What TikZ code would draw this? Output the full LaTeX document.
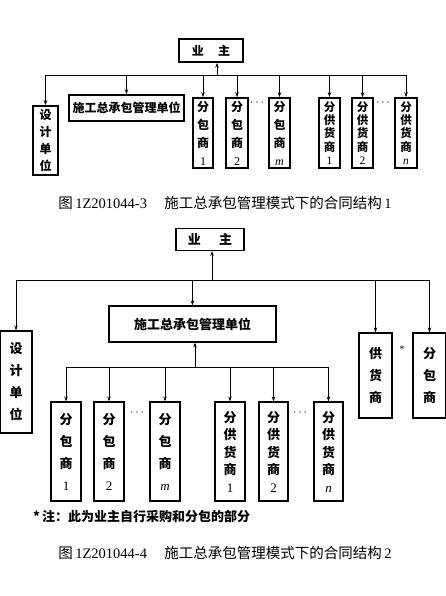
\documentclass[tikz,border=0pt]{standalone}
\usepackage{fontspec}
\setmainfont{Liberation Serif}
\newfontfamily\cjk{Noto Sans CJK SC}
\newcommand{\lat}[1]{{\rmfamily\mdseries #1}}
\newcommand{\lit}[1]{{\rmfamily\mdseries\itshape #1}}
\usetikzlibrary{arrows.meta}
\begin{document}
\begin{tikzpicture}[x=1pt,y=-1pt,
  boxa/.style={draw,line width=1.6pt,inner sep=0pt,align=center,font=\cjk\bfseries\fontsize{12}{18}\selectfont},
  boxa5/.style={boxa,font=\cjk\bfseries\fontsize{11.5}{13.2}\selectfont},
  boxb/.style={draw,line width=1.1pt,inner sep=0pt,align=center,font=\cjk\bfseries\fontsize{13}{22}\selectfont},
  boxb5/.style={boxb,font=\cjk\bfseries\fontsize{13}{17.5}\selectfont},
  wire/.style={line width=0.8pt},
  arr/.style={wire,-{Stealth[length=5pt,width=3.5pt]}},
  dotnode/.style={inner sep=0pt,font=\fontsize{13}{13}\selectfont},
  captxt/.style={inner sep=0pt,font=\fontsize{14.5}{16}\selectfont}
]
\useasboundingbox (0,0) rectangle (446,596);
% ---------- diagram 1 ----------
\node[boxa,minimum width=64,minimum height=23] (own1) at (211,50.5) {业\hspace{1.2em}主};
\node[boxa,minimum width=25,minimum height=69,font=\cjk\bfseries\fontsize{12}{17}\selectfont] (des1) at (45.5,140.5) {设\\计\\单\\位};
\node[boxa,minimum width=115,minimum height=26] (gc1) at (126.5,108) {施工总承包管理单位};
\node[boxa,minimum width=20,minimum height=70] (s1a) at (203,133) {分\\包\\商\\\lat{1}};
\node[boxa,minimum width=22,minimum height=70] (s1b) at (237,133) {分\\包\\商\\\lat{2}};
\node[boxa,minimum width=21,minimum height=70] (s1m) at (279.5,133) {分\\包\\商\\\lit{m}};
\node[boxa5,minimum width=21,minimum height=70] (v1a) at (329.5,133) {分\\供\\货\\商\\\lat{1}};
\node[boxa5,minimum width=21,minimum height=70] (v1b) at (362.5,133) {分\\供\\货\\商\\\lat{2}};
\node[boxa5,minimum width=22,minimum height=70] (v1n) at (406,133) {分\\供\\货\\商\\\lit{n}};
\node[dotnode] (d1a) at (257,103) {$\cdots$};
\node[dotnode] (d1b) at (383,103) {$\cdots$};
\coordinate (j1) at (217,75);
\draw[wire] (des1.north |- j1) -- (v1n.north |- j1);
\draw[arr] (j1) -- (j1 |- own1.south);
\foreach \n in {des1,gc1,s1a,s1b,s1m,v1a,v1b,v1n}
  \draw[arr] (\n.north |- j1) -- (\n.north);
\node[captxt] (cap1) at (225,203) {{\cjk 图}\,1Z201044-3\hspace{1.2em}{\cjk 施工总承包管理模式下的合同结构}\,1};
% ---------- diagram 2 ----------
\node[boxb,minimum width=68,minimum height=22] (own2) at (210,239.5) {业\hspace{1.4em}主};
\node[boxb,minimum width=32,minimum height=102] (des2) at (16,382) {设\\计\\单\\位};
\node[boxb,minimum width=167,minimum height=36] (gc2) at (192.5,324) {施工总承包管理单位};
\node[boxb,minimum width=33,minimum height=85] (sup2) at (375.5,375.5) {供\\货\\商};
\node[boxb,minimum width=33,minimum height=85] (sub2) at (429.5,375.5) {分\\包\\商};
\node[inner sep=0pt,font=\fontsize{10}{10}\selectfont] (star) at (402,349) {*};
\node[boxb,minimum width=30,minimum height=99] (s2a) at (66,451.5) {分\\包\\商\\\lat{1}};
\node[boxb,minimum width=30,minimum height=99] (s2b) at (109,451.5) {分\\包\\商\\\lat{2}};
\node[boxb,minimum width=30,minimum height=99] (s2m) at (165,451.5) {分\\包\\商\\\lit{m}};
\node[boxb5,minimum width=30,minimum height=99] (v2a) at (230,451.5) {分\\供\\货\\商\\\lat{1}};
\node[boxb5,minimum width=29,minimum height=99] (v2b) at (273.5,451.5) {分\\供\\货\\商\\\lat{2}};
\node[boxb5,minimum width=29,minimum height=99] (v2n) at (328.5,451.5) {分\\供\\货\\商\\\lit{n}};
\node[dotnode] (d2a) at (137,413) {$\cdots$};
\node[dotnode] (d2b) at (300,413) {$\cdots$};
\coordinate (j2) at (212,280);
\draw[wire] (des2.north |- j2) -- (sub2.north |- j2);
\draw[arr] (j2) -- (j2 |- own2.south);
\foreach \n in {des2,gc2,sup2,sub2}
  \draw[arr] (\n.north |- j2) -- (\n.north);
\coordinate (k2) at (195,367);
\draw[wire] (s2a.north |- k2) -- (v2n.north |- k2);
\draw[arr] (k2) -- (k2 |- gc2.south);
\foreach \n in {s2a,s2b,s2m,v2a,v2b,v2n}
  \draw[arr] (\n.north |- k2) -- (\n.north);
\node[anchor=west,inner sep=0pt,font=\cjk\bfseries\fontsize{13}{14}\selectfont] (note) at (33,517) {*\,注：此为业主自行采购和分包的部分};
\node[captxt] (cap2) at (225,553) {{\cjk 图}\,1Z201044-4\hspace{1.2em}{\cjk 施工总承包管理模式下的合同结构}\,2};
\end{tikzpicture}
\end{document}
